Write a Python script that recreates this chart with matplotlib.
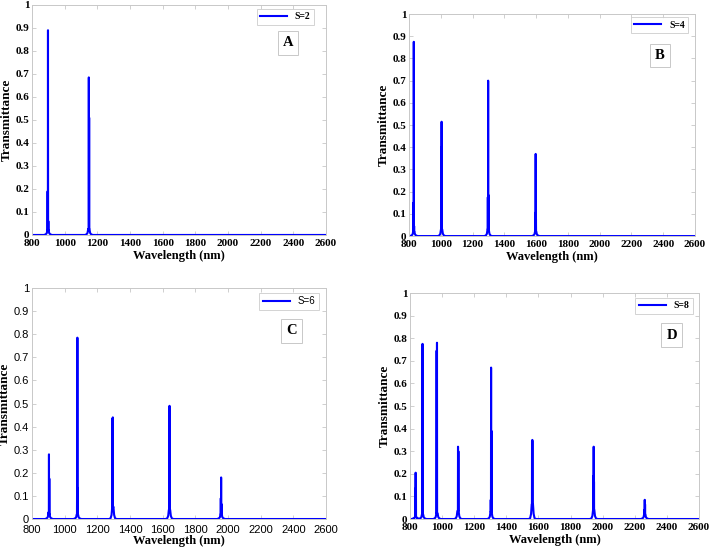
import numpy as np
import matplotlib
matplotlib.use("Agg")
import matplotlib.pyplot as plt

plt.rcParams['font.family'] = ['Liberation Serif', 'DejaVu Serif']

# ---- data ----
# each peak: centre (nm), main height, left shoulder, right shoulder, skirt height
peaks_A = [898, 1148]
main_A = [0.89, 0.685]
left_A = [0.19, 0.02]
right_A = [0.06, 0.51]
base_A = [0.02, 0.025]

peaks_B = [830, 1005, 1298, 1597]
main_B = [0.875, 0.515, 0.70, 0.37]
left_B = [0.15, 0.40, 0.175, 0.105]
right_B = [0.045, 0.045, 0.185, 0.075]
base_B = [0.02, 0.03, 0.03, 0.02]

peaks_C = [904, 1078, 1295, 1642, 1958]
main_C = [0.28, 0.785, 0.44, 0.49, 0.18]
left_C = [0.03, 0.12, 0.435, 0.135, 0.09]
right_C = [0.175, 0.135, 0.055, 0.32, 0.065]
base_C = [0.02, 0.02, 0.05, 0.04, 0.02]

peaks_D = [835, 878, 968, 1099, 1305, 1562, 1944, 2262]
main_D = [0.205, 0.775, 0.78, 0.32, 0.67, 0.35, 0.32, 0.085]
left_D = [0.02, 0.065, 0.745, 0.035, 0.085, 0.345, 0.19, 0.04]
right_D = [0.14, 0.045, 0.025, 0.30, 0.39, 0.065, 0.165, 0.065]
base_D = [0.01, 0.02, 0.025, 0.035, 0.03, 0.065, 0.04, 0.02]

labels = ['S=2', 'S=4', 'S=6', 'S=8']
letters = ['A', 'B', 'C', 'D']
x_ticks = [800, 1000, 1200, 1400, 1600, 1800, 2000, 2200, 2400, 2600]
y_ticks = [0, 0.1, 0.2, 0.3, 0.4, 0.5, 0.6, 0.7, 0.8, 0.9, 1]
y_ticklabels = ['0', '0.1', '0.2', '0.3', '0.4', '0.5', '0.6', '0.7', '0.8', '0.9', '1']


def spectrum(centres, mains, lefts, rights, bases):
    # polyline of narrow spikes with a small skirt on a zero baseline
    xs, ys = [800], [0]
    for p, h, l, r, b in zip(centres, mains, lefts, rights, bases):
        xs += [p - 24, p - 14, p - 8, p - 4, p - 2.5, p - 2, p - 1.5, p - 0.7, p,
               p + 0.7, p + 1.5, p + 2, p + 2.5, p + 4, p + 8, p + 14, p + 24]
        ys += [0, 0.003, b * 0.35, b, b, l, b, b, h,
               b, b, r, b, b, b * 0.35, 0.003, 0]
    xs.append(2600)
    ys.append(0)
    return xs, ys


series = [
    spectrum(peaks_A, main_A, left_A, right_A, base_A),
    spectrum(peaks_B, main_B, left_B, right_B, base_B),
    spectrum(peaks_C, main_C, left_C, right_C, base_C),
    spectrum(peaks_D, main_D, left_D, right_D, base_D),
]

# axes rectangles (figure fraction) and legend / letter box anchors
rects = [
    [0.0451, 0.572, 0.4147, 0.419],
    [0.5769, 0.570, 0.4034, 0.4044],
    [0.0451, 0.0546, 0.4147, 0.4208],
    [0.5783, 0.0546, 0.4076, 0.4117],
]
leg_anchor = [(0.959, 0.983), (0.976, 0.986), (0.976, 0.978), (0.979, 0.978)]
letter_pos = [(0.871, 0.835), (0.876, 0.815), (0.884, 0.814), (0.905, 0.814)]

fig = plt.figure(figsize=(7.09, 5.49), dpi=100)
gray = '#c8c8c8'

for i in range(4):
    ax = fig.add_axes(rects[i])
    xs, ys = series[i]
    ax.plot(xs, ys, color='#0000ff', linewidth=1.5, label=labels[i])
    ax.set_xlim(800, 2600)
    ax.set_ylim(0, 1)
    ax.set_xticks(x_ticks)
    ax.set_yticks(y_ticks)
    ax.set_yticklabels(y_ticklabels)

    sans = (i == 2)  # panel C uses plain sans-serif tick labels
    if sans:
        fam, wt = 'Liberation Sans', 'normal'
    else:
        fam, wt = 'Liberation Serif', 'bold'
    for t in ax.get_xticklabels() + ax.get_yticklabels():
        t.set_fontfamily(fam)
        t.set_fontweight(wt)
        t.set_fontsize(8)

    ax.tick_params(direction='in', length=3, width=0.6, color=gray,
                   top=True, right=True, labelcolor='black')
    ax.tick_params(axis='x', pad=4 if sans else 3)
    ax.tick_params(axis='y', pad=2)
    for s in ax.spines.values():
        s.set_color(gray)
        s.set_linewidth(0.7)

    ax.set_xlabel('Wavelength (nm)', fontsize=9, fontweight='bold',
                  labelpad=0 if sans else 1)
    ax.set_ylabel('Transmittance', fontsize=9.5, fontweight='bold', labelpad=2)

    leg = ax.legend(loc='upper right', bbox_to_anchor=leg_anchor[i],
                    borderaxespad=0, fancybox=False, handlelength=2.8,
                    handletextpad=0.8, borderpad=0.35,
                    prop=dict(family=fam, weight=wt, size=7))
    leg.get_frame().set_edgecolor(gray)
    leg.get_frame().set_linewidth(0.7)

    ax.text(letter_pos[i][0], letter_pos[i][1], letters[i], transform=ax.transAxes,
            ha='center', va='center', fontsize=10.5, fontweight='bold',
            bbox=dict(boxstyle='square,pad=0.35', facecolor='white',
                      edgecolor=gray, linewidth=0.7))

plt.savefig('out.png', dpi=100)
